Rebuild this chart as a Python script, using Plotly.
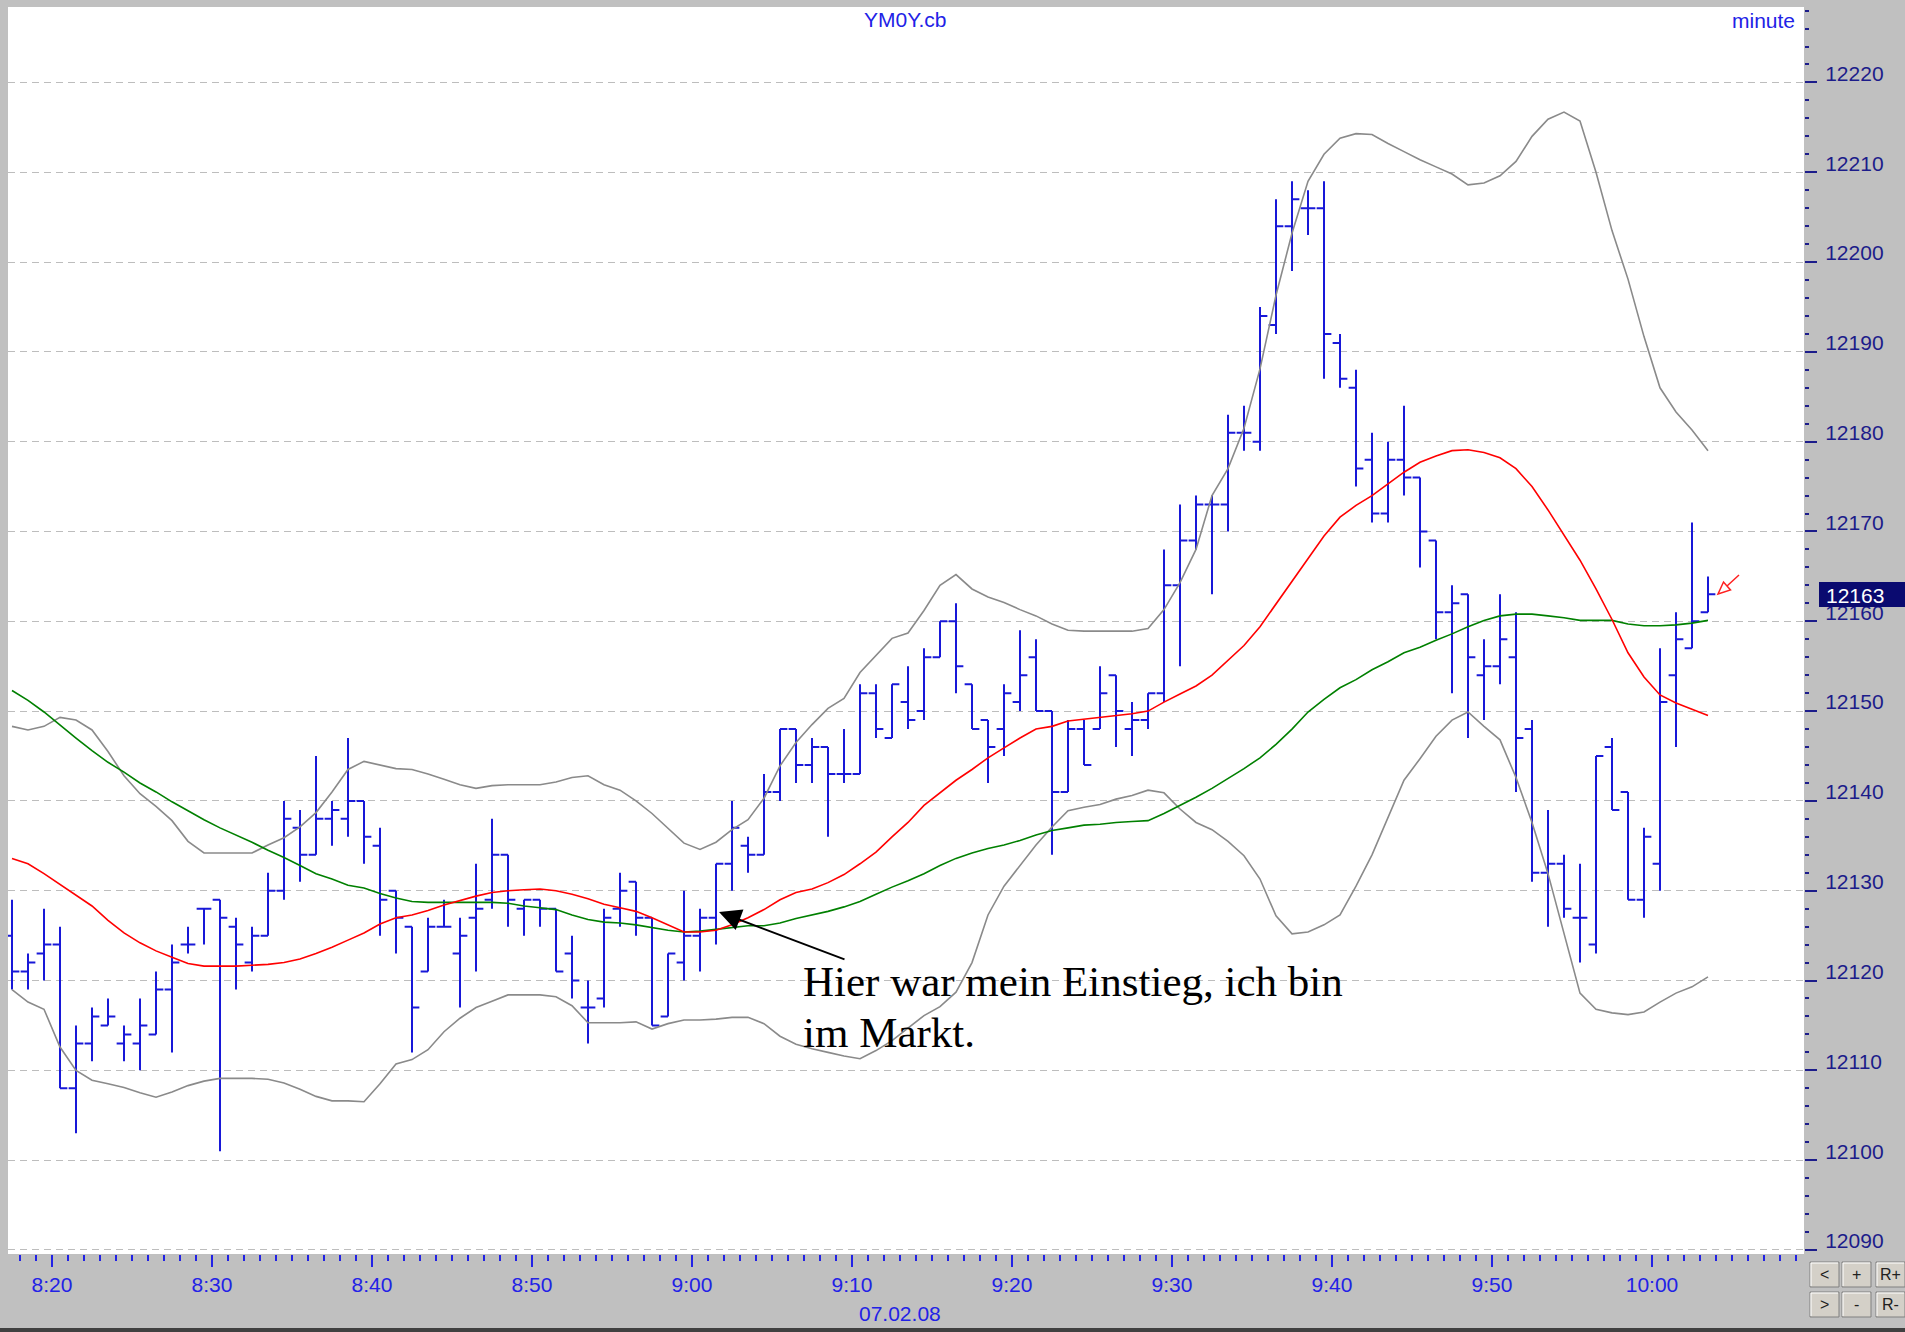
import plotly.graph_objects as go

# ---------------- data ----------------
start_hour, start_min, n_bars = 8, 17, 107
times = []
for i in range(n_bars):
    t = start_min + i
    times.append(f"{start_hour + t // 60}:{t % 60:02d}")

opens = [12125,12121,12123,12124,12108,12113,12115,12113,12113,12114,
         12119,12124,12128,12129,12126,12122,12125,12130,12137,12134,
         12138,12138,12140,12135,12130,12126,12121,12126,12123,12127,
         12129,12134,12128,12129,12128,12123,12117,12118,12128,12131,
         12127,12116,12122,12125,12127,12133,12135,12134,12141,12148,
         12144,12146,12143,12143,12152,12147,12151,12150,12156,12160,
         12153,12149,12148,12151,12156,12150,12141,12148,12148,12154,
         12148,12149,12152,12164,12169,12173,12173,12181,12180,12193,
         12204,12206,12206,12191,12186,12178,12172,12178,12176,12169,
         12161,12163,12154,12155,12156,12148,12132,12133,12127,12124,
         12146,12141,12129,12133,12154,12157,12161]
highs = [12129,12123,12128,12126,12115,12117,12118,12115,12118,12121,
         12124,12126,12128,12129,12127,12126,12132,12140,12139,12145,
         12140,12147,12140,12137,12130,12126,12127,12129,12127,12133,
         12138,12134,12129,12129,12128,12125,12120,12128,12132,12131,
         12127,12123,12130,12128,12133,12140,12136,12143,12148,12148,
         12147,12146,12148,12153,12153,12153,12155,12157,12160,12162,
         12153,12149,12153,12159,12158,12150,12149,12149,12155,12154,
         12151,12152,12168,12173,12174,12174,12183,12184,12195,12207,
         12209,12208,12209,12192,12188,12181,12180,12184,12176,12169,
         12164,12163,12158,12163,12161,12149,12139,12134,12133,12145,
         12147,12141,12137,12157,12161,12171,12165]
lows = [12119,12119,12120,12108,12103,12111,12115,12111,12110,12114,
        12112,12123,12124,12101,12119,12121,12125,12129,12131,12134,
        12135,12136,12133,12125,12123,12112,12121,12126,12117,12121,
        12128,12126,12125,12126,12121,12118,12113,12117,12126,12125,
        12115,12116,12120,12121,12124,12130,12132,12134,12140,12142,
        12142,12136,12142,12143,12147,12147,12148,12149,12156,12152,
        12148,12142,12145,12150,12150,12134,12141,12144,12148,12146,
        12145,12148,12151,12155,12168,12163,12170,12179,12179,12192,
        12199,12203,12187,12186,12175,12171,12171,12174,12166,12158,
        12152,12147,12149,12153,12141,12131,12126,12127,12122,12123,
        12139,12129,12127,12130,12146,12157,12161]
closes = [12121,12122,12124,12108,12113,12116,12116,12114,12115,12119,
          12122,12124,12128,12127,12124,12125,12130,12138,12134,12138,
          12139,12140,12136,12129,12127,12117,12126,12126,12125,12128,
          12134,12129,12129,12128,12121,12120,12117,12127,12130,12127,
          12115,12123,12125,12127,12133,12137,12134,12141,12148,12144,
          12146,12143,12143,12152,12148,12153,12149,12156,12160,12155,
          12148,12146,12152,12154,12150,12141,12148,12144,12152,12150,
          12149,12152,12164,12169,12173,12173,12181,12181,12194,12204,
          12207,12206,12192,12187,12177,12172,12178,12176,12170,12161,
          12162,12156,12155,12158,12147,12132,12133,12128,12127,12145,
          12139,12129,12136,12151,12158,12160,12163]

ma_red = [12133.6,12133.0,12131.9,12130.7,12129.5,12128.3,12126.7,12125.3,12124.2,12123.3,
          12122.6,12121.9,12121.6,12121.6,12121.6,12121.7,12121.8,12122.0,12122.4,12123.0,
          12123.7,12124.5,12125.3,12126.3,12127.0,12127.3,12127.8,12128.4,12128.9,12129.4,
          12129.8,12130.0,12130.1,12130.2,12130.0,12129.6,12129.1,12128.5,12128.1,12127.7,
          12127.0,12126.2,12125.4,12125.4,12125.6,12126.2,12127.0,12127.9,12129.0,12129.8,
          12130.2,12130.9,12131.8,12133.0,12134.3,12136.0,12137.6,12139.5,12140.9,12142.3,
          12143.5,12144.8,12145.9,12147.0,12148.0,12148.3,12148.9,12149.1,12149.3,12149.5,
          12149.7,12150.0,12151.0,12151.9,12152.8,12154.0,12155.7,12157.3,12159.4,12161.9,
          12164.5,12167.0,12169.5,12171.6,12172.9,12174.0,12175.3,12176.6,12177.7,12178.4,
          12179.0,12179.1,12178.8,12178.2,12177.0,12175.0,12172.4,12169.6,12166.8,12163.6,
          12160.2,12156.5,12153.8,12151.8,12150.9,12150.2,12149.5]
ma_green = [12152.3,12151.2,12149.9,12148.4,12147.0,12145.6,12144.3,12143.2,12142.0,12141.0,
            12139.9,12138.9,12137.9,12137.0,12136.2,12135.4,12134.5,12133.7,12132.8,12131.9,
            12131.3,12130.6,12130.3,12129.7,12129.2,12128.8,12128.7,12128.7,12128.7,12128.7,
            12128.7,12128.6,12128.3,12128.1,12127.9,12127.3,12126.8,12126.5,12126.4,12126.2,
            12125.9,12125.6,12125.4,12125.5,12125.7,12125.9,12126.1,12126.1,12126.4,12126.9,
            12127.3,12127.7,12128.2,12128.8,12129.6,12130.4,12131.1,12131.9,12132.8,12133.6,
            12134.2,12134.7,12135.1,12135.6,12136.2,12136.7,12137.0,12137.3,12137.4,12137.6,
            12137.7,12137.8,12138.6,12139.5,12140.4,12141.4,12142.5,12143.6,12144.8,12146.3,
            12148.0,12149.9,12151.3,12152.6,12153.5,12154.6,12155.5,12156.5,12157.1,12157.9,
            12158.6,12159.4,12160.1,12160.6,12160.8,12160.8,12160.6,12160.4,12160.1,12160.1,
            12160.1,12159.7,12159.5,12159.5,12159.6,12159.8,12160.1]
band_upper = [12148.3,12147.9,12148.3,12149.3,12149.0,12147.9,12145.5,12142.8,12140.8,12139.4,
              12137.8,12135.5,12134.2,12134.2,12134.2,12134.2,12135.1,12135.9,12137.1,12138.7,
              12141.0,12143.5,12144.4,12144.0,12143.6,12143.5,12143.0,12142.4,12141.8,12141.4,
              12141.7,12141.8,12141.8,12141.8,12142.1,12142.6,12142.8,12141.8,12141.2,12140.0,
              12138.6,12137.0,12135.3,12134.6,12135.4,12136.8,12137.9,12140.3,12143.9,12146.5,
              12148.5,12150.3,12151.4,12154.3,12156.2,12158.1,12158.7,12161.2,12164.0,12165.2,
              12163.6,12162.7,12162.1,12161.3,12160.6,12159.7,12159.0,12158.9,12158.9,12158.9,
              12158.9,12159.2,12161.3,12164.3,12168.0,12174.0,12177.0,12181.5,12188.1,12196.3,
              12203.2,12209.0,12212.0,12213.8,12214.3,12214.2,12213.2,12212.3,12211.4,12210.6,
              12209.8,12208.6,12208.8,12209.6,12211.2,12214.0,12215.9,12216.7,12215.7,12210.0,
              12203.5,12198.1,12191.7,12186.0,12183.3,12181.3,12179.0]
band_lower = [12119.0,12117.6,12116.8,12112.6,12110.0,12108.9,12108.5,12108.1,12107.5,12107.0,
              12107.6,12108.3,12108.8,12109.1,12109.1,12109.1,12109.0,12108.6,12107.9,12107.1,
              12106.6,12106.6,12106.5,12108.5,12110.7,12111.2,12112.3,12114.3,12115.8,12117.0,
              12117.7,12118.4,12118.4,12118.4,12118.2,12117.2,12115.3,12115.3,12115.3,12115.4,
              12114.6,12115.2,12115.6,12115.6,12115.7,12115.9,12115.9,12115.2,12113.8,12112.9,
              12112.4,12112.0,12111.6,12111.3,12112.2,12113.3,12114.7,12116.1,12117.1,12118.7,
              12122.0,12127.3,12130.5,12132.8,12135.1,12137.1,12138.9,12139.3,12139.6,12140.2,
              12140.6,12141.2,12140.9,12139.1,12137.6,12136.8,12135.5,12133.9,12131.3,12127.2,
              12125.2,12125.4,12126.2,12127.3,12130.5,12134.0,12138.2,12142.3,12144.7,12147.2,
              12149.0,12149.9,12148.3,12146.8,12142.6,12137.6,12131.9,12125.4,12118.6,12116.8,
              12116.4,12116.2,12116.5,12117.6,12118.6,12119.3,12120.4]

x_tick_labels = ["8:20", "8:30", "8:40", "8:50", "9:00", "9:10", "9:20", "9:30", "9:40", "9:50", "10:00"]
y_ticks = list(range(12090, 12221, 10))
last_price = 12163
symbol = "YM0Y.cb"
period = "minute"
date_label = "07.02.08"
note_lines = ["Hier war mein Einstieg, ich bin", "im Markt."]

# ---------------- helpers ----------------
def to_min(s):
    h, m = s.split(":")
    return int(h) * 60 + int(m)

xs = [to_min(t) + 0.5 for t in times]
x_tick_vals = [to_min(t) for t in x_tick_labels]

W, H = 1905, 1332
L, R, T, B = 8, 1804, 7, 1254

def PX(x):
    return (x - L) / (R - L)

def PY(y):
    return (B - y) / (B - T)

BLUE = "#1818d8"
NAVY = "#1c1c8a"
LBL = "#2222e6"

fig = go.Figure()

fig.add_trace(go.Ohlc(
    x=xs, open=opens, high=highs, low=lows, close=closes,
    increasing=dict(line=dict(color=BLUE, width=2)),
    decreasing=dict(line=dict(color=BLUE, width=2)),
    tickwidth=0.46, hoverinfo="skip", showlegend=False))

for vals, col in [(band_upper, "#8a8a8a"), (band_lower, "#8a8a8a"),
                  (ma_green, "#008000"), (ma_red, "#ff0000")]:
    fig.add_trace(go.Scatter(x=xs, y=vals, mode="lines",
                             line=dict(color=col, width=1.6),
                             hoverinfo="skip", showlegend=False))

fig.update_layout(
    width=W, height=H,
    margin=dict(l=L, r=W - R, t=T, b=H - B, autoexpand=False),
    paper_bgcolor="#c0c0c0", plot_bgcolor="#ffffff",
    showlegend=False,
    xaxis=dict(
        range=[to_min("8:17") + 0.25, to_min("10:09") + 0.5],
        tickvals=x_tick_vals, ticktext=x_tick_labels,
        ticks="outside", ticklen=12, tickwidth=2, tickcolor=LBL,
        minor=dict(dtick=1, tick0=0, ticks="outside", ticklen=6, tickwidth=2,
                   tickcolor=LBL, showgrid=False),
        showgrid=False, zeroline=False, showline=False,
        tickfont=dict(family="Liberation Sans, Arial", size=21, color=LBL),
        ticklabelstandoff=0,
        rangeslider=dict(visible=False), fixedrange=True),
    yaxis=dict(
        side="right",
        range=[12089.55, 12228.4],
        tickvals=y_ticks, ticktext=[str(v) for v in y_ticks],
        ticks="outside", ticklen=12, tickwidth=2, tickcolor=NAVY,
        minor=dict(dtick=2, tick0=12090, ticks="outside", ticklen=4, tickwidth=2,
                   tickcolor=NAVY, showgrid=False),
        showgrid=True, gridcolor="#bdbdbd", gridwidth=1, griddash="7px,5px",
        zeroline=False, showline=False,
        tickfont=dict(family="Liberation Sans, Arial", size=21, color=NAVY),
        ticklabelshift=-9, ticklabelstandoff=4,
        fixedrange=True),
)

shapes = []
annotations = []

# price box on the right axis
shapes.append(dict(type="rect", xref="paper", yref="paper",
                   x0=PX(1819), x1=PX(1905), y0=PY(607), y1=PY(582),
                   fillcolor="#0a0a70", line=dict(width=0), layer="above"))
annotations.append(dict(text=str(last_price), xref="paper", yref="paper",
                        x=PX(1824), y=PY(595), xanchor="left", yanchor="middle",
                        showarrow=False,
                        font=dict(family="Liberation Sans, Arial", size=21, color="#ffffff")))

# titles
annotations.append(dict(text=symbol, xref="paper", yref="paper", x=PX(905), y=PY(19),
                        xanchor="center", yanchor="middle", showarrow=False,
                        font=dict(family="Liberation Sans, Arial", size=21, color=LBL)))
annotations.append(dict(text=period, xref="paper", yref="paper", x=PX(1797), y=PY(20),
                        xanchor="right", yanchor="middle", showarrow=False,
                        font=dict(family="Liberation Sans, Arial", size=21, color=LBL)))
annotations.append(dict(text=date_label, xref="paper", yref="paper", x=PX(900), y=PY(1313),
                        xanchor="center", yanchor="middle", showarrow=False,
                        font=dict(family="Liberation Sans, Arial", size=21, color=LBL)))

# note text
annotations.append(dict(text=note_lines[0], xref="paper", yref="paper", x=PX(801), y=PY(981),
                        xanchor="left", yanchor="middle", showarrow=False,
                        font=dict(family="Liberation Serif, Times New Roman", size=43, color="#000000")))
annotations.append(dict(text=note_lines[1], xref="paper", yref="paper", x=PX(801), y=PY(1032),
                        xanchor="left", yanchor="middle", showarrow=False,
                        font=dict(family="Liberation Serif, Times New Roman", size=43, color="#000000")))
# black arrow
annotations.append(dict(text="", xref="paper", yref="paper", x=PX(719), y=PY(912),
                        ax=127, ay=48, showarrow=True, arrowhead=2, arrowsize=2.2,
                        arrowwidth=2, arrowcolor="#000000", standoff=0))

# small hollow red arrow marker
path = (f"M {PX(1739)},{PY(575)} L {PX(1727)},{PY(586)} "
        f"M {PX(1718)},{PY(594)} L {PX(1730.5)},{PY(590)} L {PX(1723.5)},{PY(582)} Z")
shapes.append(dict(type="path", xref="paper", yref="paper", path=path,
                   line=dict(color="#ff2020", width=1.5), fillcolor="rgba(0,0,0,0)"))

# buttons bottom right
buttons = [("<", 1810, 1839, 1262, 1287), ("+", 1842, 1871, 1262, 1287), ("R+", 1876, 1905, 1262, 1287),
           (">", 1810, 1839, 1292, 1317), ("-", 1842, 1871, 1292, 1317), ("R-", 1876, 1905, 1292, 1317)]
for lab, x0, x1, y0, y1 in buttons:
    shapes.append(dict(type="rect", xref="paper", yref="paper",
                       x0=PX(x0), x1=PX(x1), y0=PY(y1), y1=PY(y0),
                       fillcolor="#d4d0c8", line=dict(color="#808080", width=1)))
    shapes.append(dict(type="path", xref="paper", yref="paper",
                       path=f"M {PX(x0+1)},{PY(y1-1)} L {PX(x0+1)},{PY(y0+1)} L {PX(x1-1)},{PY(y0+1)}",
                       line=dict(color="#ffffff", width=1)))
    annotations.append(dict(text=lab, xref="paper", yref="paper", x=PX((x0 + x1) / 2),
                            y=PY((y0 + y1) / 2), xanchor="center", yanchor="middle",
                            showarrow=False,
                            font=dict(family="Liberation Sans, Arial", size=16, color="#202020")))

# bottom dark strip
shapes.append(dict(type="rect", xref="paper", yref="paper",
                   x0=PX(0), x1=PX(W), y0=PY(H), y1=PY(1328),
                   fillcolor="#404040", line=dict(width=0)))

fig.update_layout(shapes=shapes, annotations=annotations)
fig.write_html("out.html", config={"displayModeBar": False})

# remove the default page margin so the figure sits at the window's top-left corner
with open("out.html", "r", encoding="utf-8") as f:
    html = f.read()
html = html.replace("<body>", '<body style="margin:0;padding:0;overflow:hidden;">', 1)
with open("out.html", "w", encoding="utf-8") as f:
    f.write(html)
